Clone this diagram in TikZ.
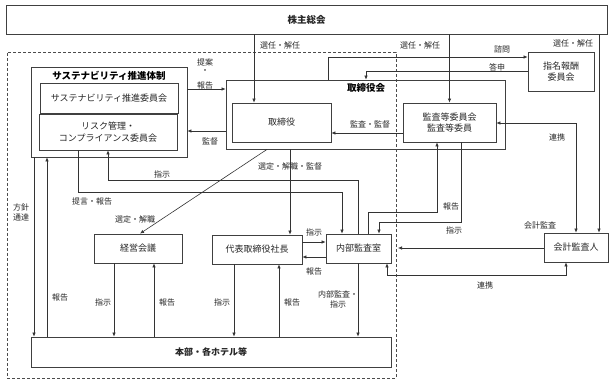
\documentclass[tikz,border=0pt]{standalone}
\usepackage{fontspec}
\setmainfont{Noto Sans CJK JP}
\usetikzlibrary{arrows.meta}
\begin{document}
\begin{tikzpicture}[x=1pt,y=-1pt,
  box/.style={draw=black!75,line width=0.8pt,inner sep=0pt,align=center,font=\fontsize{9}{11.5}\selectfont,text=black!85},
  lbl/.style={inner sep=0pt,align=center,font=\fontsize{8}{10}\selectfont,text=black!85},
  ttl/.style={inner sep=0pt,font=\bfseries\fontsize{9.5}{11}\selectfont},
  con/.style={draw=black!80,line width=0.6pt},
  arr/.style={con,-{Latex[length=4pt,width=3.5pt]}},
  arrb/.style={con,{Latex[length=4pt,width=3.5pt]}-{Latex[length=4pt,width=3.5pt]}}]
\useasboundingbox (0,0) rectangle (613,382);
% boxes
\node[box,minimum width=601pt,minimum height=29pt,font=\bfseries\fontsize{9.5}{11}\selectfont] (kabu) at (306.5,19.5) {株主総会};
\node[draw=black!70,dash pattern=on 3pt off 2pt,line width=0.6pt,minimum width=389pt,minimum height=326pt,inner sep=0pt] (co) at (201.5,215) {};
\node[box,minimum width=156pt,minimum height=90pt] (susout) at (109,112) {};
\node[ttl] (sustitle) at (109,76) {サステナビリティ推進体制};
\node[box,minimum width=138pt,minimum height=30pt] (sus1) at (109,98) {サステナビリティ推進委員会};
\node[box,minimum width=138pt,minimum height=36pt] (risk) at (108,132) {リスク管理・\\コンプライアンス委員会};
\node[box,minimum width=279pt,minimum height=69pt] (torikai) at (365.5,114.5) {};
\node[ttl] (torititle) at (366,88) {取締役会};
\node[box,minimum width=99pt,minimum height=39pt] (tori) at (281.5,122.5) {取締役};
\node[box,minimum width=93pt,minimum height=39pt] (kansa) at (449.5,122.5) {監査等委員会\\監査等委員};
\node[box,minimum width=66pt,minimum height=39pt] (shimei) at (561,71.5) {指名報酬\\委員会};
\node[box,minimum width=88pt,minimum height=29pt] (keiei) at (138,248.5) {経営会議};
\node[box,minimum width=90pt,minimum height=29pt] (daihyo) at (257,249.5) {代表取締役社長};
\node[box,minimum width=65pt,minimum height=29pt] (naibu) at (358.5,248.5) {内部監査室};
\node[box,minimum width=64pt,minimum height=29pt] (kaikei) at (576,247.5) {会計監査人};
\node[box,minimum width=360pt,minimum height=30pt,font=\bfseries\fontsize{9}{10}\selectfont] (honbu) at (211,352) {本部・各ホテル等};
% helper coordinates
\coordinate (s1) at (254,0);
\coordinate (s3) at (599,0);
\coordinate (c1) at (328,57);
\coordinate (c2) at (366,71);
\coordinate (c3) at (0,89);
\coordinate (c4) at (0,131);
\coordinate (c5) at (0,133);
\coordinate (c6) at (576,123);
\coordinate (c7) at (290,0);
\coordinate (c8) at (267,0);
\coordinate (c9) at (140,0);
\coordinate (c10) at (78,192);
\coordinate (c11) at (342,192);
\coordinate (c12) at (358,180);
\coordinate (c13) at (108,180);
\coordinate (c14) at (34,0);
\coordinate (c15) at (47,0);
\coordinate (c16) at (114,0);
\coordinate (c17) at (154,0);
\coordinate (c18) at (234,0);
\coordinate (c19) at (279,0);
\coordinate (c20) at (0,242);
\coordinate (c21) at (0,257);
\coordinate (c22) at (368,212);
\coordinate (c23) at (437,212);
\coordinate (c24) at (461,222);
\coordinate (c25) at (379,222);
\coordinate (c26) at (398,248);
\coordinate (c27) at (566,275);
\coordinate (c28) at (387,275);
% connectors
\draw[arr] (kabu.south -| s1) -- (tori.north -| s1);
\draw[arr] (kabu.south -| kansa.north) -- (kansa.north);
\draw[arr] (kabu.south -| s3) -- (kaikei.north -| s3);
\draw[arr] (torikai.north -| c1) -- (c1) -- (shimei.west |- c1);
\draw[arr] (shimei.west |- c2) -- (c2) -- (torikai.north -| c2);
\draw[arr] (susout.east |- c3) -- (torikai.west |- c3);
\draw[arr] (torikai.west |- c4) -- (susout.east |- c4);
\draw[arr] (kansa.west |- c5) -- (tori.east |- c5);
\draw[arrb] (kansa.east |- c6) -- (c6) -- (kaikei.north -| c6);
\draw[arr] (torikai.south -| c7) -- (daihyo.north -| c7);
\draw[arr] (torikai.south -| c8) -- (keiei.north -| c9);
\draw[arr] (risk.south -| c10) -- (c10) -- (c11) -- (naibu.north -| c11);
\draw[arr] (naibu.north -| c12) -- (c12) -- (c13) -- (risk.south -| c13);
\draw[arr] (susout.south -| c14) -- (honbu.north -| c14);
\draw[arr] (honbu.north -| c15) -- (susout.south -| c15);
\draw[arr] (keiei.south -| c16) -- (honbu.north -| c16);
\draw[arr] (honbu.north -| c17) -- (keiei.south -| c17);
\draw[arr] (daihyo.south -| c18) -- (honbu.north -| c18);
\draw[arr] (honbu.north -| c19) -- (daihyo.south -| c19);
\draw[arr] (daihyo.east |- c20) -- (naibu.west |- c20);
\draw[arr] (naibu.west |- c21) -- (daihyo.east |- c21);
\draw[arr] (naibu.south -| c12) -- (honbu.north -| c12);
\draw[arr] (naibu.north -| c22) -- (c22) -- (c23) -- (kansa.south -| c23);
\draw[arr] (kansa.south -| c24) -- (c24) -- (c25) -- (naibu.north -| c25);
\draw[arr] (kaikei.west |- c26) -- (c26);
\draw[arrb] (kaikei.south -| c27) -- (c27) -- (c28) -- (naibu.south -| c28);
% labels
\node[lbl] (l1) at (280,45) {選任・解任};
\node[lbl] (l2) at (420,45) {選任・解任};
\node[lbl] (l3) at (573,43) {選任・解任};
\node[lbl] (l4) at (502,49) {諮問};
\node[lbl] (l5) at (497,67) {答申};
\node[lbl] (l6a) at (205,62) {提案};
\node[lbl] (l6b) at (205,72) {・};
\node[lbl] (l6c) at (205,85) {報告};
\node[lbl] (l7) at (210,141) {監督};
\node[lbl] (l8) at (370,124) {監査・監督};
\node[lbl] (l9) at (290,166) {選定・解職・監督};
\node[lbl] (l10) at (162,174) {指示};
\node[lbl] (l11) at (92,201) {提言・報告};
\node[lbl] (l12) at (135,219) {選定・解職};
\node[lbl] (l13) at (21,212.5) {方針\\通達};
\node[lbl] (l14) at (60,297) {報告};
\node[lbl] (l15) at (103,302) {指示};
\node[lbl] (l16) at (167,302) {報告};
\node[lbl] (l17) at (222,302) {指示};
\node[lbl] (l18) at (292,302) {報告};
\node[lbl] (l19) at (314,232) {指示};
\node[lbl] (l20) at (314,271) {報告};
\node[lbl] (l21) at (451,206) {報告};
\node[lbl] (l22) at (454,230) {指示};
\node[lbl] (l23) at (540,225) {会計監査};
\node[lbl] (l24) at (485,285) {連携};
\node[lbl] (l25) at (557,137) {連携};
\node[lbl] (l26) at (338,299) {内部監査・\\指示};
\end{tikzpicture}
\end{document}
